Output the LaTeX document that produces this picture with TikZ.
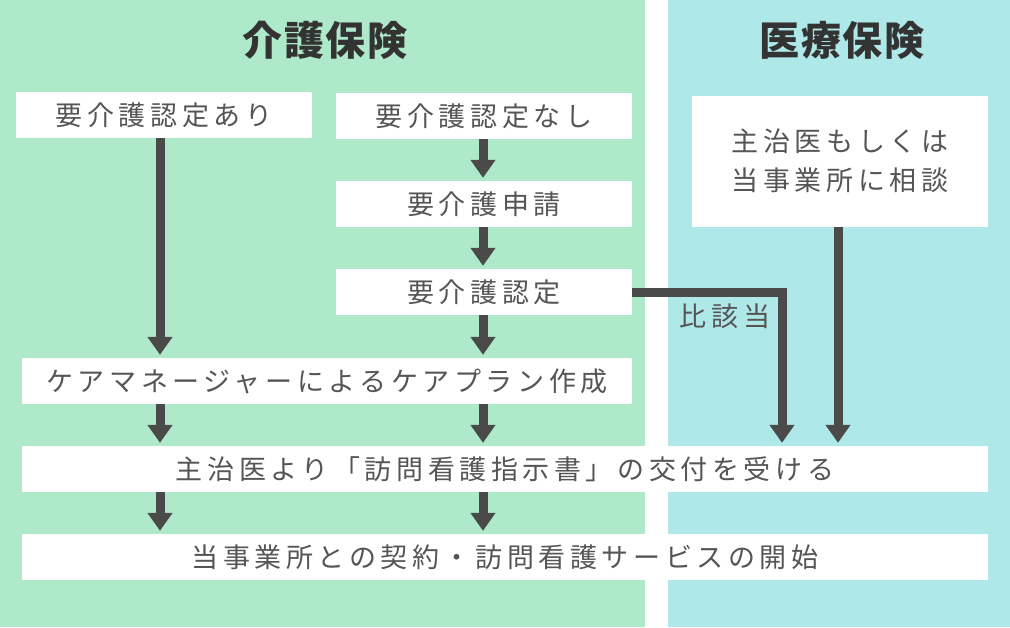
\documentclass[tikz,border=0pt]{standalone}
\usepackage{fontspec}
\usetikzlibrary{arrows.meta}
\newfontfamily\jpfont{Noto Sans CJK JP}[LetterSpace=17]
\newfontfamily\jptitle{Noto Sans CJK JP}[LetterSpace=4]
\definecolor{pgreen}{HTML}{AEE9C9}
\definecolor{pcyan}{HTML}{AEE8E8}
\definecolor{arrowc}{HTML}{4A4A4A}
\definecolor{txtc}{HTML}{555555}
\definecolor{ttlc}{HTML}{333333}
\begin{document}
\begin{tikzpicture}[x=1pt,y=-1pt,
  box/.style={fill=white, draw=none, inner sep=0pt, minimum height=46pt, text=txtc,
    font=\jpfont\fontsize{27}{39}\selectfont},
  lbl/.style={inner sep=0pt, text=txtc, font=\jpfont\fontsize{27}{30}\selectfont},
  arr/.style={draw=arrowc, line width=9pt, line join=miter,
    -{Triangle[width=24pt,length=18pt]}, shorten >=3pt},
  ttl/.style={inner sep=0pt, text=ttlc, font=\jptitle\bfseries\fontsize{40}{42}\selectfont}]
\useasboundingbox (0,0) rectangle (1010,627);
\fill[white] (0,0) rectangle (1010,627);
\fill[pgreen] (0,0) rectangle (645,627);
\fill[pcyan] (668,0) rectangle (1010,627);
\node[ttl] (t1) at (325,40) {介護保険};
\node[ttl] (t2) at (842,40) {医療保険};
\node[box, minimum width=296pt] (ari) at (164,115) {要介護認定あり};
\node[box, minimum width=296pt] (nashi) at (484,116) {要介護認定なし};
\node[box, minimum width=296pt] (shinsei) at (484,204) {要介護申請};
\node[box, minimum width=296pt] (nintei) at (484,292) {要介護認定};
\node[box, minimum width=610pt] (kea) at (327,381) {ケアマネージャーによるケアプラン作成};
\node[box, minimum width=966pt] (shiji) at (505,469) {主治医より「訪問看護指示書」の交付を受ける};
\node[box, minimum width=966pt] (keiyaku) at (505,557) {当事業所との契約・訪問看護サービスの開始};
\node[box, minimum width=296pt, minimum height=131pt, align=center] (sodan) at (840,161) {主治医もしくは\\当事業所に相談};
\node[lbl] (hi) at (725,316) {比該当};
\coordinate (L) at (160,0);
\coordinate (R) at (483,0);
\coordinate (M) at (782,0);
\coordinate (S) at (838,0);
\draw[arr] (ari.south -| L) -- (kea.north -| L);
\draw[arr] (nashi.south -| R) -- (shinsei.north -| R);
\draw[arr] (shinsei.south -| R) -- (nintei.north -| R);
\draw[arr] (nintei.south -| R) -- (kea.north -| R);
\draw[arr] (kea.south -| L) -- (shiji.north -| L);
\draw[arr] (kea.south -| R) -- (shiji.north -| R);
\draw[arr] (shiji.south -| L) -- (keiyaku.north -| L);
\draw[arr] (shiji.south -| R) -- (keiyaku.north -| R);
\draw[arr] (nintei.east) -- (nintei.east -| M) -- (shiji.north -| M);
\draw[arr] (sodan.south -| S) -- (shiji.north -| S);
\end{tikzpicture}
\end{document}
